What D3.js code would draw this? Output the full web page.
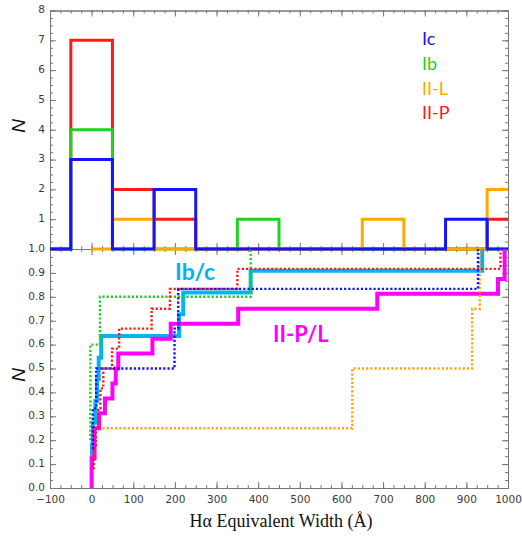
<!DOCTYPE html>
<html>
<head>
<meta charset="utf-8">
<script src="https://cdn.jsdelivr.net/npm/d3@7"></script>
<style>
  html, body { margin: 0; padding: 0; background: #fff; }
  svg { display: block; }
</style>
</head>
<body>
<script>
// ---------------- Data ----------------
// Axis ticks
const xTickValues = [-100, 0, 100, 200, 300, 400, 500, 600, 700, 800, 900, 1000];
const xTickLabels = ["\u2212100", "0", "100", "200", "300", "400", "500", "600", "700", "800", "900", "1000"];
const topYTickValues = [1, 2, 3, 4, 5, 6, 7, 8];
const topYTickLabels = ["1", "2", "3", "4", "5", "6", "7", "8"];
const lowYTickValues = [0, 0.1, 0.2, 0.3, 0.4, 0.5, 0.6, 0.7, 0.8, 0.9, 1.0];
const lowYTickLabels = ["0.0", "0.1", "0.2", "0.3", "0.4", "0.5", "0.6", "0.7", "0.8", "0.9", "1.0"];

// Histograms (bin centres, counts) – top panel
const histCentersA = [-100, 0, 100, 200, 300, 400, 500, 600, 700, 800, 900, 1000];
const histCentersL = [0, 100, 200, 300, 400, 500, 600, 700, 800, 900, 1000];
const histIc   = [0, 3, 0, 2, 0, 0, 0, 0, 0, 0, 1, 0];
const histIb   = [0, 4, 0, 0, 0, 1, 0, 0, 0, 0, 0, 0];
const histIIL  = [0, 1, 0, 0, 0, 0, 0, 1, 0, 0, 2];
const histIIP  = [0, 7, 2, 1, 0, 0, 0, 0, 0, 0, 0, 1];

// Cumulative distributions – bottom panel (EW values, cumulative fraction)
const cdfIbcEW = [-2, 1, 3, 9, 13, 17, 23, 210, 220, 382, 938];
const cdfIbcN  = [0.091, 0.182, 0.273, 0.364, 0.455, 0.545, 0.636, 0.727, 0.818, 0.909, 1.0];
const cdfIIPLEW = [0, 0, 7, 18, 32, 50, 58, 64, 146, 190, 352, 686, 976, 992];
const cdfIIPLN  = [0, 0.125, 0.25, 0.3125, 0.375, 0.4375, 0.5, 0.5625, 0.625, 0.6875, 0.75, 0.8125, 0.875, 1.0];
const cdfIcEW  = [0, 3, 11, 199, 208, 928];
const cdfIcN   = [0.167, 0.333, 0.5, 0.667, 0.833, 1.0];
const cdfIbEW  = [-3, -3, -3, 20, 382];
const cdfIbN   = [0.2, 0.4, 0.6, 0.8, 1.0];
const cdfIILEW = [26, 626, 914, 932];
const cdfIILN  = [0.25, 0.5, 0.75, 1.0];
const cdfIIPEW = [2, 5, 10, 16, 21, 28, 49, 66, 144, 188, 350, 982];
const cdfIIPN  = [0.083, 0.167, 0.25, 0.333, 0.417, 0.5, 0.583, 0.667, 0.75, 0.833, 0.917, 1.0];

const legendLabels = ["Ic", "Ib", "II-L", "II-P"];

// ---------------- Styling ----------------
const C = {
  Ic: "#1414ff", Ib: "#1ed21e", IIL: "#ffa800", IIP: "#ff1a1a",
  Ibc: "#00b4f0", IIPL: "#ff00ff", axis: "#777", label: "#3a3a3a"
};
const W = 522, H = 550;
const left = 50, right = 508, topY = 10.5, midY = 249, botY = 488;

const svg = d3.select("body").append("svg").attr("width", W).attr("height", H);

const x = d3.scaleLinear().domain([-100, 1000]).range([left, right]);
const yTop = d3.scaleLinear().domain([0, 8]).range([midY, topY]);
const yLow = d3.scaleLinear().domain([0, 1]).range([botY, midY]);

const tickFont = "'DejaVu Sans', sans-serif";

function styleAxis(g, showLabels, dy) {
  g.select(".domain").attr("stroke", C.axis).attr("stroke-width", 1);
  g.selectAll(".tick line").attr("stroke", C.axis).attr("stroke-width", 1);
  g.selectAll(".tick text").attr("fill", C.label).style("font-family", tickFont).style("font-size", "10.5px");
  if (dy) g.selectAll(".tick text").attr("dy", dy);
  if (!showLabels) g.selectAll(".tick text").remove();
}

function minorTicks(domain, step) {
  const out = [];
  const n = Math.round((domain[1] - domain[0]) / step);
  for (let i = 0; i <= n; i++) out.push(domain[0] + i * step);
  return out;
}

function drawPanel(yScale, yMajor, yLabels, yMinorStep, showXLabels, yDomain) {
  const xMinor = minorTicks([-100, 1000], 25);
  const yMinor = minorTicks(yDomain, yMinorStep);
  const y0 = yScale.range()[0], y1 = yScale.range()[1];
  // minor ticks
  const mb = svg.append("g").attr("transform", `translate(0,${y0})`)
    .call(d3.axisBottom(x).tickValues(xMinor).tickSize(-3).tickSizeOuter(0).tickFormat(""));
  styleAxis(mb, false);
  const mt = svg.append("g").attr("transform", `translate(0,${y1})`)
    .call(d3.axisTop(x).tickValues(xMinor).tickSize(-3).tickSizeOuter(0).tickFormat(""));
  styleAxis(mt, false);
  const ml = svg.append("g").attr("transform", `translate(${left},0)`)
    .call(d3.axisLeft(yScale).tickValues(yMinor).tickSize(-3).tickSizeOuter(0).tickFormat(""));
  styleAxis(ml, false);
  const mr = svg.append("g").attr("transform", `translate(${right},0)`)
    .call(d3.axisRight(yScale).tickValues(yMinor).tickSize(-3).tickSizeOuter(0).tickFormat(""));
  styleAxis(mr, false);
  // major ticks
  const gb = svg.append("g").attr("transform", `translate(0,${y0})`)
    .call(d3.axisBottom(x).tickValues(xTickValues).tickSize(-6).tickSizeOuter(0).tickPadding(7.5)
      .tickFormat((d, i) => xTickLabels[i]));
  styleAxis(gb, showXLabels);
  const gt = svg.append("g").attr("transform", `translate(0,${y1})`)
    .call(d3.axisTop(x).tickValues(xTickValues).tickSize(-6).tickSizeOuter(0).tickFormat(""));
  styleAxis(gt, false);
  const gl = svg.append("g").attr("transform", `translate(${left},0)`)
    .call(d3.axisLeft(yScale).tickValues(yMajor).tickSize(-6).tickSizeOuter(0).tickPadding(5)
      .tickFormat((d, i) => yLabels[i]));
  styleAxis(gl, true, "0.22em");
  const gr = svg.append("g").attr("transform", `translate(${right},0)`)
    .call(d3.axisRight(yScale).tickValues(yMajor).tickSize(-6).tickSizeOuter(0).tickFormat(""));
  styleAxis(gr, false);
}

// Axes
drawPanel(yTop, topYTickValues, topYTickLabels, 0.25, false, [0, 8]);
drawPanel(yLow, lowYTickValues, lowYTickLabels, 0.1 / 3, true, [0, 1]);

// Clip paths
const defs = svg.append("defs");
defs.append("clipPath").attr("id", "clipTop").append("rect")
  .attr("x", left).attr("y", topY - 2).attr("width", right - left).attr("height", midY - topY + 4);
defs.append("clipPath").attr("id", "clipLow").append("rect")
  .attr("x", left).attr("y", midY).attr("width", right - left).attr("height", botY - midY + 2);

// ---------------- Top panel histograms ----------------
const histLine = d3.line().x(d => x(d[0])).y(d => yTop(d[1])).curve(d3.curveStep);
const histSeries = [
  { c: histCentersA, n: histIIP, color: C.IIP },
  { c: histCentersA, n: histIb, color: C.Ib },
  { c: histCentersL, n: histIIL, color: C.IIL },
  { c: histCentersA, n: histIc, color: C.Ic }
];
const gTop = svg.append("g").attr("clip-path", "url(#clipTop)");
histSeries.forEach(s => {
  gTop.append("path")
    .datum(s.c.map((v, i) => [v, s.n[i]]))
    .attr("d", histLine)
    .attr("fill", "none").attr("stroke", s.color).attr("stroke-width", 3)
    .attr("stroke-linejoin", "miter");
});

// Legend
const legendColors = [C.Ic, C.Ib, C.IIL, C.IIP];
const legendY = [45, 70, 95, 119];
svg.append("g").selectAll("text").data(legendLabels).join("text")
  .attr("x", 422).attr("y", (d, i) => legendY[i])
  .attr("fill", (d, i) => legendColors[i])
  .style("font-family", "Lato, 'Open Sans', sans-serif").style("font-size", "18px")
  .text(d => d);

// ---------------- Bottom panel CDFs ----------------
const cdfLine = d3.line().x(d => x(d[0])).y(d => yLow(d[1])).curve(d3.curveStepAfter);
const gLow = svg.append("g").attr("clip-path", "url(#clipLow)");
const thick = [
  { ew: cdfIbcEW, n: cdfIbcN, color: C.Ibc },
  { ew: cdfIIPLEW, n: cdfIIPLN, color: C.IIPL }
];
thick.forEach(s => {
  gLow.append("path")
    .datum(s.ew.map((v, i) => [v, s.n[i]]))
    .attr("d", cdfLine)
    .attr("fill", "none").attr("stroke", s.color).attr("stroke-width", 4)
    .attr("stroke-linejoin", "miter");
});
const dotted = [
  { ew: cdfIbEW, n: cdfIbN, color: C.Ib },
  { ew: cdfIILEW, n: cdfIILN, color: C.IIL },
  { ew: cdfIIPEW, n: cdfIIPN, color: C.IIP },
  { ew: cdfIcEW, n: cdfIcN, color: C.Ic }
];
dotted.forEach(s => {
  gLow.append("path")
    .datum(s.ew.map((v, i) => [v, s.n[i]]))
    .attr("d", cdfLine)
    .attr("fill", "none").attr("stroke", s.color).attr("stroke-width", 2.4)
    .attr("stroke-dasharray", "2.2,2");
});

// Series labels
svg.append("text").attr("x", 175).attr("y", 280)
  .attr("fill", C.Ibc).style("font-family", "Lato, 'Open Sans', sans-serif")
  .style("font-weight", "bold").style("font-size", "23px").text("Ib/c");
svg.append("text").attr("x", 273).attr("y", 342)
  .attr("fill", C.IIPL).style("font-family", "Lato, 'Open Sans', sans-serif")
  .style("font-weight", "bold").style("font-size", "22px").text("II-P/L");

// Axis titles
[126, 375].forEach(cy => {
  svg.append("text").attr("transform", `translate(25,${cy}) rotate(-90)`)
    .attr("text-anchor", "middle")
    .style("font-family", "'Liberation Sans', Arial, sans-serif")
    .style("font-style", "italic").style("font-size", "19px").attr("fill", "#111")
    .text("N");
});
svg.append("text").attr("x", 281).attr("y", 527).attr("text-anchor", "middle")
  .style("font-family", "'Liberation Serif', 'DejaVu Serif', serif").style("font-size", "18px")
  .attr("fill", "#111").text("H\u03b1 Equivalent Width (\u00c5)");
</script>
</body>
</html>
